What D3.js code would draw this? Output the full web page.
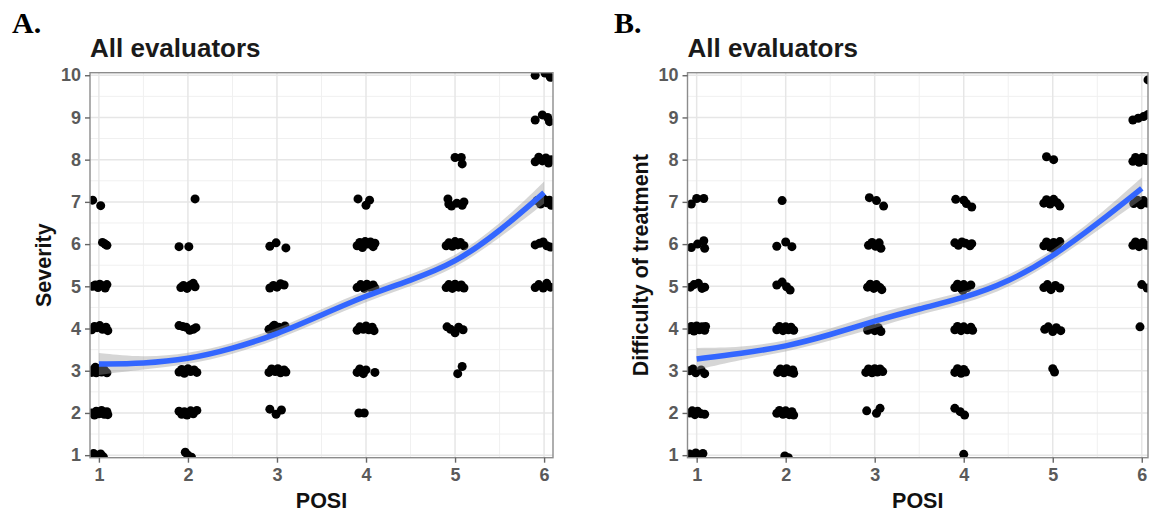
<!DOCTYPE html>
<html>
<head>
<meta charset="utf-8">
<script src="https://cdn.jsdelivr.net/npm/d3@7"></script>
<style>
  body { margin: 0; background: #fff; }
  svg { display: block; font-family: "Liberation Sans", Arial, sans-serif; }
</style>
</head>
<body>
<svg id="chart" width="1151" height="513"></svg>
<script>
// POSI vs Severity / Difficulty of treatment — jittered points + loess smooth

// ---- tick labels ----
const xTicks = [1, 2, 3, 4, 5, 6];
const yTicks = [1, 2, 3, 4, 5, 6, 7, 8, 9, 10];

// ---- panel A: Severity (jittered points) ----
const severityPts = [
  [0.93,7.04],[1.02,6.91],
  [1.04,6.04],[1.07,6.0],[1.09,5.97],
  [0.93,5.0],[0.96,5.03],[0.99,4.97],[1.03,5.02],[1.07,4.96],[1.09,5.04],[1.01,5.05],
  [0.92,3.97],[0.95,4.05],[0.98,4.02],[1.01,4.07],[1.04,3.98],[1.08,4.03],[1.1,3.95],
  [0.92,2.96],[0.94,3.03],[0.97,2.95],[1.0,3.05],[1.03,2.97],[1.06,3.02],[1.09,2.95],[0.96,3.08],
  [0.92,2.0],[0.95,1.95],[0.97,2.04],[1.0,1.98],[1.03,2.06],[1.06,1.97],[1.09,2.03],[1.1,1.96],
  [0.94,1.04],[0.98,1.0],[1.02,1.03],[1.05,0.96],
  [2.08,7.07],
  [1.90,5.94],[2.01,5.94],
  [1.92,4.97],[1.95,5.02],[1.99,4.95],[2.03,5.03],[2.06,5.07],[2.08,4.99],
  [1.9,4.07],[1.94,4.05],[1.98,4.03],[2.02,3.96],[2.06,3.98],[2.09,4.02],
  [1.9,2.97],[1.93,3.03],[1.96,2.94],[2.0,3.05],[2.03,2.98],[2.07,3.02],[2.1,2.96],[1.98,3.0],
  [1.9,2.04],[1.93,1.97],[1.96,2.03],[1.99,1.95],[2.03,2.05],[2.06,1.98],[2.1,2.06],
  [1.97,1.07],[2.0,1.0],[2.04,0.95],
  [2.92,5.95],[2.99,6.03],[3.1,5.91],
  [2.92,4.96],[2.96,5.02],[3.0,4.98],[3.04,5.06],[3.08,5.03],
  [2.91,3.98],[2.95,4.04],[2.99,3.96],[3.02,4.03],[3.06,4.0],[3.09,4.06],[2.97,4.08],
  [2.91,2.96],[2.94,3.04],[2.98,2.98],[3.01,3.05],[3.04,2.95],[3.08,3.02],[3.1,2.97],
  [2.92,2.09],[2.99,1.97],[3.05,2.07],
  [3.91,7.07],[4.0,6.92],[4.04,7.04],
  [3.9,5.96],[3.93,6.04],[3.96,5.92],[3.99,6.06],[4.02,6.0],[4.05,6.05],[4.08,5.94],[4.1,6.02],
  [3.9,4.97],[3.94,5.04],[3.98,4.95],[4.01,5.05],[4.04,4.98],[4.08,5.03],[4.1,4.96],
  [3.9,3.96],[3.93,4.04],[3.97,3.98],[4.0,4.06],[4.03,3.97],[4.07,4.03],[4.09,3.95],
  [3.9,2.96],[3.93,3.04],[3.97,2.93],[4.0,3.02],[4.1,2.96],
  [3.92,2.0],[3.98,2.0],
  [5.0,8.05],[5.07,8.05],[5.08,7.9],
  [4.92,7.07],[4.93,6.95],[4.96,6.9],[5.02,6.97],[5.08,6.92],[5.1,7.0],
  [4.9,5.96],[4.93,6.03],[4.97,5.95],[5.0,6.06],[5.03,5.98],[5.06,6.04],[5.1,5.96],
  [4.9,4.97],[4.93,5.04],[4.97,4.95],[5.0,5.05],[5.04,4.98],[5.07,5.03],[5.1,4.96],
  [4.91,4.04],[4.95,3.98],[5.0,3.9],[5.04,4.03],[5.09,3.97],
  [5.03,2.93],[5.08,3.1],
  [5.9,10.0],[6.01,10.05],[6.07,9.95],
  [5.9,8.94],[5.98,9.06],[6.04,9.0],[6.06,8.9],
  [5.9,7.95],[5.94,8.06],[5.98,7.97],[6.02,8.04],[6.05,7.92],[6.08,8.0],
  [5.92,7.03],[5.96,6.95],[6.0,7.06],[6.03,6.98],[6.06,7.04],[6.08,6.92],
  [5.9,5.98],[5.95,6.02],[5.99,6.05],[6.03,5.96],[6.07,5.93],
  [5.9,4.97],[5.94,5.04],[5.99,4.96],[6.03,5.07],[6.07,4.98]
];

// ---- panel B: Difficulty of treatment ----
const difficultyPts = [
  [0.94,6.95],[1.0,7.08],[1.08,7.08],
  [0.94,5.92],[1.01,6.0],[1.08,6.08],[1.09,5.9],
  [0.93,4.98],[0.97,5.04],[1.02,5.07],[1.06,4.95],[1.09,4.98],
  [0.91,3.97],[0.94,4.05],[0.97,3.94],[1.0,4.06],[1.03,3.97],[1.06,4.04],[1.09,3.96],[1.1,4.05],
  [0.92,3.0],[0.96,3.04],[0.99,2.95],[1.05,3.02],[1.09,2.93],
  [0.92,2.0],[0.95,2.05],[0.98,1.96],[1.01,2.04],[1.05,1.98],[1.09,1.97],
  [0.92,1.03],[0.96,0.98],[0.99,1.05],[1.03,1.0],[1.07,1.04],
  [1.96,7.03],
  [1.9,5.95],[2.0,6.05],[2.07,5.94],
  [1.9,5.03],[1.96,5.1],[2.01,4.99],[2.05,4.91],
  [1.9,3.97],[1.93,4.05],[1.97,3.95],[2.0,4.04],[2.03,3.97],[2.06,4.03],[2.09,3.96],[1.95,4.0],
  [1.91,2.96],[1.94,3.04],[1.98,2.95],[2.01,3.05],[2.05,2.97],[2.08,3.02],[2.09,2.94],
  [1.9,1.99],[1.93,2.06],[1.97,1.97],[2.0,2.05],[2.04,1.96],[2.07,2.03],[2.09,1.95],
  [1.99,0.98],[2.03,0.94],
  [2.94,7.1],[3.02,7.03],[3.1,6.9],
  [2.93,5.97],[2.97,6.04],[3.01,5.95],[3.05,6.03],[3.07,5.9],
  [2.92,4.98],[2.95,5.05],[2.99,4.95],[3.02,5.04],[3.06,4.97],[3.08,4.92],
  [2.92,3.96],[2.96,4.04],[3.0,3.95],[3.04,4.02],[3.07,3.93],
  [2.9,2.96],[2.93,3.04],[2.97,2.95],[3.0,3.05],[3.03,2.97],[3.06,3.04],[3.09,2.98],
  [2.91,2.05],[3.02,1.99],[3.06,2.11],
  [3.91,7.06],[4.0,7.04],[4.03,6.96],[4.09,6.88],
  [3.9,6.03],[3.94,5.97],[3.98,6.05],[4.02,6.02],[4.07,5.96],[4.09,6.01],
  [3.9,4.97],[3.93,5.05],[3.97,4.95],[4.0,5.04],[4.04,4.97],[4.08,5.03],[3.99,4.9],
  [3.9,3.97],[3.93,4.05],[3.97,3.95],[4.0,4.04],[4.04,3.97],[4.08,4.03],[4.1,3.96],
  [3.9,2.96],[3.93,3.05],[3.97,2.94],[4.0,3.03],[4.02,2.97],
  [3.9,2.11],[3.96,2.03],[4.01,1.95],
  [4.0,1.02],
  [4.93,8.07],[5.01,8.0],
  [4.9,6.97],[4.93,7.05],[4.97,6.95],[5.01,7.06],[5.05,6.98],[5.08,6.9],
  [4.9,5.96],[4.93,6.05],[4.97,5.93],[5.01,6.04],[5.05,5.97],[5.08,6.06],[5.0,5.9],
  [4.9,4.97],[4.94,5.04],[4.98,4.92],[5.03,5.02],[5.08,4.96],
  [4.91,3.98],[4.95,4.04],[5.0,3.93],[5.04,4.02],[5.09,3.95],
  [5.0,3.05],[5.02,2.97],
  [6.07,9.89],
  [5.9,8.94],[5.96,8.98],[6.02,9.02],[6.07,9.07],
  [5.9,7.96],[5.93,8.05],[5.97,7.94],[6.01,8.06],[6.04,7.98],[6.07,8.03],
  [5.91,6.96],[5.95,7.04],[5.99,6.93],[6.02,7.03],[6.06,6.97],
  [5.9,5.97],[5.93,6.05],[5.97,5.94],[6.01,6.04],[6.05,5.97],
  [6.0,5.04],[6.06,4.96],
  [5.98,4.04]
];

// ---- smooth fits (loess) with confidence band ----
const fitX = [1, 1.5, 2, 2.5, 3, 3.5, 4, 4.5, 5, 5.5, 6];
const severityFit = [3.16, 3.17, 3.27, 3.52, 3.86, 4.32, 4.78, 5.14, 5.55, 6.3, 7.22];
const severityLo  = [2.9,  3.03, 3.14, 3.39, 3.73, 4.18, 4.64, 5.0,  5.41, 6.14, 6.96];
const severityHi  = [3.42, 3.31, 3.4,  3.65, 3.99, 4.46, 4.92, 5.28, 5.69, 6.46, 7.48];
const difficultyFit = [3.28, 3.41, 3.57, 3.85, 4.18, 4.47, 4.72, 5.1, 5.7, 6.48, 7.32];
const difficultyLo  = [3.02, 3.27, 3.44, 3.71, 4.01, 4.33, 4.58, 4.96, 5.56, 6.32, 7.06];
const difficultyHi  = [3.54, 3.55, 3.7,  3.99, 4.35, 4.61, 4.86, 5.24, 5.84, 6.64, 7.58];

const svg = d3.select("#chart");
const panelTop = 72.7, panelBottom = 457.7;
const lineColor = "#3366FF";

function drawPanel(p){
  const x = d3.scaleLinear().domain(p.xDomain).range([p.left, p.right]);
  const y = d3.scaleLinear().domain([0.94, 10.06]).range([panelBottom, panelTop]);
  const g = svg.append("g");

  // grid
  const xMinor = [1.5, 2.5, 3.5, 4.5, 5.5];
  const yMinor = [1.5, 2.5, 3.5, 4.5, 5.5, 6.5, 7.5, 8.5, 9.5];
  g.selectAll(".ym").data(yMinor).join("line")
    .attr("x1", p.left).attr("x2", p.right)
    .attr("y1", d => y(d)).attr("y2", d => y(d))
    .attr("stroke", "#f0f0f0").attr("stroke-width", 1);
  g.selectAll(".xm").data(xMinor).join("line")
    .attr("y1", panelTop).attr("y2", panelBottom)
    .attr("x1", d => x(d)).attr("x2", d => x(d))
    .attr("stroke", "#f0f0f0").attr("stroke-width", 1);
  g.selectAll(".yM").data(yTicks).join("line")
    .attr("x1", p.left).attr("x2", p.right)
    .attr("y1", d => y(d)).attr("y2", d => y(d))
    .attr("stroke", "#e6e6e6").attr("stroke-width", 1.5);
  g.selectAll(".xM").data(xTicks).join("line")
    .attr("y1", panelTop).attr("y2", panelBottom)
    .attr("x1", d => x(d)).attr("x2", d => x(d))
    .attr("stroke", "#e6e6e6").attr("stroke-width", 1.5);

  const clipId = "clip" + p.key;
  svg.append("clipPath").attr("id", clipId).append("rect")
    .attr("x", p.left).attr("y", panelTop)
    .attr("width", p.right - p.left).attr("height", panelBottom - panelTop);
  const inner = g.append("g").attr("clip-path", `url(#${clipId})`);

  // points
  inner.selectAll("circle").data(p.pts).join("circle")
    .attr("cx", d => x(d[0])).attr("cy", d => y(d[1]))
    .attr("r", 4.5).attr("fill", "#000");

  // ribbon + smooth line
  const band = fitX.map((v, i) => ({x: v, lo: p.lo[i], hi: p.hi[i], f: p.fit[i]}));
  inner.append("path").datum(band)
    .attr("d", d3.area().curve(d3.curveBasis)
      .x(d => x(d.x)).y0(d => y(d.lo)).y1(d => y(d.hi)))
    .attr("fill", "#999").attr("opacity", 0.4);
  inner.append("path").datum(band)
    .attr("d", d3.line().curve(d3.curveBasis).x(d => x(d.x)).y(d => y(d.f)))
    .attr("fill", "none").attr("stroke", lineColor).attr("stroke-width", 5.5);

  // border
  g.append("rect").attr("x", p.left).attr("y", panelTop)
    .attr("width", p.right - p.left).attr("height", panelBottom - panelTop)
    .attr("fill", "none").attr("stroke", "#8c8c8c").attr("stroke-width", 1.4);

  // axes
  const xAxis = g.append("g").attr("transform", `translate(0,${panelBottom})`)
    .call(d3.axisBottom(x).tickValues(xTicks).tickSize(5).tickPadding(6).tickFormat(d3.format("d")));
  const yAxis = g.append("g").attr("transform", `translate(${p.left},0)`)
    .call(d3.axisLeft(y).tickValues(yTicks).tickSize(5).tickPadding(4).tickFormat(d3.format("d")));
  [xAxis, yAxis].forEach(a => {
    a.select(".domain").remove();
    a.selectAll(".tick line").attr("stroke", "#666").attr("stroke-width", 1.4);
    a.selectAll(".tick text").attr("fill", "#5a5a5a")
      .style("font-size", "18px").style("font-weight", "bold")
      .style("font-family", "'Liberation Sans', Arial, sans-serif");
  });

  // titles
  svg.append("text").attr("x", p.left).attr("y", 57)
    .style("font-size", "26px").style("font-weight", "bold").attr("fill", "#1a1a1a")
    .text("All evaluators");
  svg.append("text").attr("x", (p.left + p.right) / 2).attr("y", 508)
    .attr("text-anchor", "middle")
    .style("font-size", "21.5px").style("font-weight", "bold").attr("fill", "#111")
    .text("POSI");
  svg.append("text")
    .attr("transform", `translate(${p.yLabelX},${(panelTop + panelBottom) / 2}) rotate(-90)`)
    .attr("text-anchor", "middle").attr("dy", "0.35em")
    .style("font-size", "21.5px").style("font-weight", "bold").attr("fill", "#111")
    .text(p.yLabel);
  svg.append("text").attr("x", p.letterX).attr("y", 33)
    .style("font-family", "'Liberation Serif', 'Times New Roman', serif")
    .style("font-size", "30px").style("font-weight", "bold").attr("fill", "#000")
    .text(p.letter);
}

drawPanel({key: "A", left: 90, right: 553, xDomain: [0.9, 6.1],
  pts: severityPts, fit: severityFit, lo: severityLo, hi: severityHi,
  yLabel: "Severity", yLabelX: 43, letter: "A.", letterX: 12});
drawPanel({key: "B", left: 687.5, right: 1148, xDomain: [0.897, 6.07],
  pts: difficultyPts, fit: difficultyFit, lo: difficultyLo, hi: difficultyHi,
  yLabel: "Difficulty of treatment", yLabelX: 640, letter: "B.", letterX: 614});
</script>
</body>
</html>
